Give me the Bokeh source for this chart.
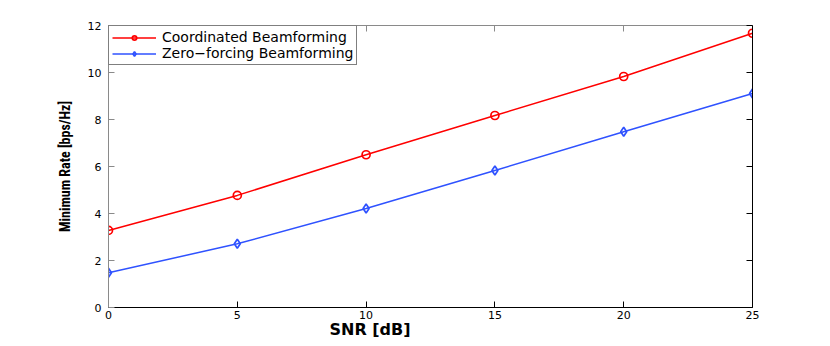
from bokeh.plotting import figure
from bokeh.models import Range1d, FixedTicker, LinearAxis, Legend, CustomJSTickFormatter, Title
from bokeh.embed import file_html
from bokeh.resources import INLINE

snr = [0, 5, 10, 15, 20, 25]
coordinated = [3.28, 4.77, 6.50, 8.17, 9.83, 11.67]
zero_forcing = [1.48, 2.71, 4.21, 5.83, 7.48, 9.11]
x_ticks = [0, 5, 10, 15, 20, 25]
y_ticks = [0, 2, 4, 6, 8, 10, 12]
series_names = ["Coordinated Beamforming", "Zero\u2212forcing Beamforming"]
x_title = "SNR [dB]"
y_title = "Minimum Rate [bps/Hz]"

RED = "#ff0000"
BLUE = "#2f52ff"
GRAY = "#8a8a8a"
TICK_FONT = "DejaVu Sans"

p = figure(width=830, height=346, output_backend="svg", toolbar_location=None,
           x_range=Range1d(0, 25), y_range=Range1d(0, 12),
           x_axis_type=None, y_axis_type=None,
           min_border_left=108, min_border_right=78, min_border_top=25, min_border_bottom=39)
p.outline_line_color = None
p.xgrid.visible = False
p.ygrid.visible = False
p.background_fill_color = "white"
p.border_fill_color = "white"


def style_axis(ax, color, show_labels):
    ax.axis_line_color = color
    ax.axis_line_width = 1
    ax.major_tick_line_color = color
    ax.major_tick_in = 6
    ax.major_tick_out = 0
    ax.minor_tick_line_color = None
    ax.major_label_text_font = TICK_FONT
    ax.major_label_text_color = "black"
    ax.major_label_text_font_size = "11px"
    if not show_labels:
        ax.formatter = CustomJSTickFormatter(code="return ''")
        ax.major_label_standoff = 0


xb = LinearAxis(ticker=FixedTicker(ticks=x_ticks))
style_axis(xb, "black", True)
xb.major_label_standoff = 3
p.add_layout(xb, "below")

xlab = Title(text=x_title, align="left", offset=221, standoff=-7,
             text_font="DejaVu Sans", text_font_style="bold", text_font_size="16px",
             text_color="black")
p.add_layout(xlab, "below")

xt = LinearAxis(ticker=FixedTicker(ticks=x_ticks))
style_axis(xt, GRAY, False)
p.add_layout(xt, "above")

yl = LinearAxis(ticker=FixedTicker(ticks=y_ticks), axis_label=y_title)
style_axis(yl, GRAY, True)
yl.major_label_standoff = 7
yl.axis_label_text_font = "'Liberation Sans Narrow', 'Roboto Condensed', 'Liberation Sans'"
yl.axis_label_text_font_style = "bold"
yl.axis_label_text_font_size = "14px"
yl.axis_label_text_color = "black"
yl.axis_label_standoff = 12
p.add_layout(yl, "left")

yr = LinearAxis(ticker=FixedTicker(ticks=y_ticks))
style_axis(yr, "black", False)
p.add_layout(yr, "right")

r1 = p.line(snr, coordinated, line_color=RED, line_width=1.5)
s1 = p.scatter(snr, coordinated, marker="circle", size=8, line_color=RED, line_width=1.7, fill_color=None)
r2 = p.line(snr, zero_forcing, line_color=BLUE, line_width=1.5)
s2 = p.scatter(snr, zero_forcing, marker="diamond", size=9, line_color=BLUE, line_width=1.7, fill_color=None)

legend = Legend(items=[(series_names[0], [r1, s1]), (series_names[1], [r2, s2])],
                location="top_left", margin=0, padding=3, spacing=0,
                glyph_width=44, glyph_height=11, label_height=11, label_standoff=6,
                border_line_color="black", border_line_width=1,
                background_fill_color="white", background_fill_alpha=1.0,
                label_text_font=TICK_FONT, label_text_font_size="14px",
                label_text_line_height=1.0,
                label_text_color="black")
p.add_layout(legend, "center")

open("out.html", "w").write(file_html(p, INLINE))
